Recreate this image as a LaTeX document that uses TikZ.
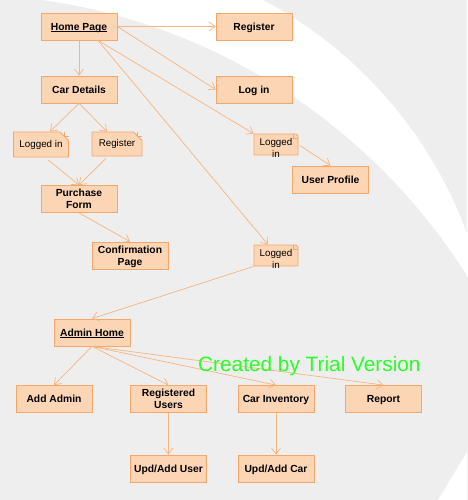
\documentclass[tikz,border=0pt]{standalone}
\usepackage{fontspec}
\setmainfont{Liberation Sans}
\usetikzlibrary{arrows.meta, shapes.misc}
\definecolor{boxfill}{RGB}{252,213,180}
\definecolor{boxline}{RGB}{244,167,105}
\definecolor{flowline}{RGB}{247,180,125}
\definecolor{bggray}{RGB}{238,238,238}
\definecolor{trialgreen}{RGB}{40,255,40}
\newcommand{\objname}[1]{\underline{\raisebox{0pt}[\height][0pt]{#1}}}

\begin{document}
\begin{tikzpicture}[x=1pt, y=-1pt,
  page/.style={draw=boxline, fill=boxfill, line width=0.8pt, minimum width=76pt, minimum height=27pt, inner sep=1pt, text depth=0pt, align=center, font=\fontsize{10.3}{12.4}\selectfont\bfseries},
  note/.style={chamfered rectangle, chamfered rectangle corners=north east, chamfered rectangle xsep=5pt, draw=boxline, fill=boxfill, line width=0.8pt, inner sep=1pt, font=\fontsize{9.8}{12}\selectfont},
  notetxt/.style={font=\fontsize{9.8}{12}\selectfont, align=center, inner sep=0pt, yshift=-3pt},
  flow/.style={draw=flowline, line width=0.7pt, -{Straight Barb[length=6pt, width=9pt]}}]
\useasboundingbox (0,0) rectangle (467,500);
% background swoosh
\fill[bggray] (0,0) rectangle (467,500);
\begin{scope}
\clip (59.9,383.1) circle[radius=433.6pt];
\fill[white] (0,0) rectangle (467,500);
\fill[bggray] (-43.5,597) circle[radius=603pt];
\end{scope}
\fill[white] (438,500) -- (467,452) -- (467,500) -- cycle;
% customer side
\node[page] (home) at (79,26.5) {\objname{Home Page}};
\node[page] (reg) at (254,26.5) {Register};
\node[page] (car) at (79,89.5) {Car Details};
\node[page] (login) at (254,89.5) {Log in};
\node[note, minimum width=54pt, minimum height=25pt] (li1) at (41,144.5) {Logged in};
\node[note, minimum width=50pt, minimum height=24pt] (rg1) at (117,144) {Register};
\node[page] (pf) at (79,199) {Purchase\\Form};
\node[page] (cp) at (130,255.5) {Confirmation\\Page};
\node[note, minimum width=44pt, minimum height=21pt, label={[notetxt]center:Logged\\in}] (li2) at (276,144.5) {};
\node[page] (up) at (330.5,179.5) {User Profile};
\node[note, minimum width=44pt, minimum height=21pt, label={[notetxt]center:Logged\\in}] (li3) at (276,255.5) {};
% admin side
\node[page] (ah) at (92,332.5) {\objname{Admin Home}};
\node[page] (aa) at (54,399) {Add Admin};
\node[page] (ru) at (168.5,399) {Registered\\Users};
\node[page] (ci) at (276,399) {Car Inventory};
\node[page] (rp) at (383.5,399) {Report};
\node[page] (uu) at (168.5,468.5) {Upd/Add User};
\node[page] (uc) at (276,468.5) {Upd/Add Car};
% folded corners
\foreach \n in {li1,rg1,li2,li3}
  \draw[boxline, line width=0.6pt] ([xshift=-5pt]\n.north -| \n.east) |- ([yshift=-5pt]\n.north -| \n.east);
% links
\draw[flow] (home.east) -- (reg.west);
\draw[flow] (home.east) -- (login.west);
\draw[flow] ([xshift=19pt]home.south) -- (li2.north west);
\draw[flow] ([xshift=19pt]home.south) -- ([xshift=-8pt]li3.north);
\draw[flow] (home) -- (car);
\draw[flow] (car.south) -- ([xshift=9pt]li1.north);
\draw[flow] (car.south) -- ([xshift=-10pt]rg1.north);
\draw[flow, shorten <=4pt] ([xshift=4pt]li1.south) -- (pf.north);
\draw[flow, shorten <=3pt] ([xshift=-9pt]rg1.south) -- (pf.north);
\draw[flow] (pf.south) -- (cp.north);
\draw[flow, shorten <=2pt] (li2.east) -- (up.north);
\draw[flow] (li3.south west) -- (ah.north);
\draw[flow] (ah.south) -- (aa.north);
\draw[flow] (ah.south) -- (ru.north);
\draw[flow] (ah.south) -- (ci.north);
\draw[flow] (ah.south) -- (rp.north);
\draw[flow] (ru) -- (uu);
\draw[flow] (ci) -- (uc);
\node[font=\fontsize{20.8}{24}\selectfont, text=trialgreen, anchor=base west, inner sep=0pt] (wm) at (198,371) {Created by Trial Version};
\end{tikzpicture}
\end{document}
